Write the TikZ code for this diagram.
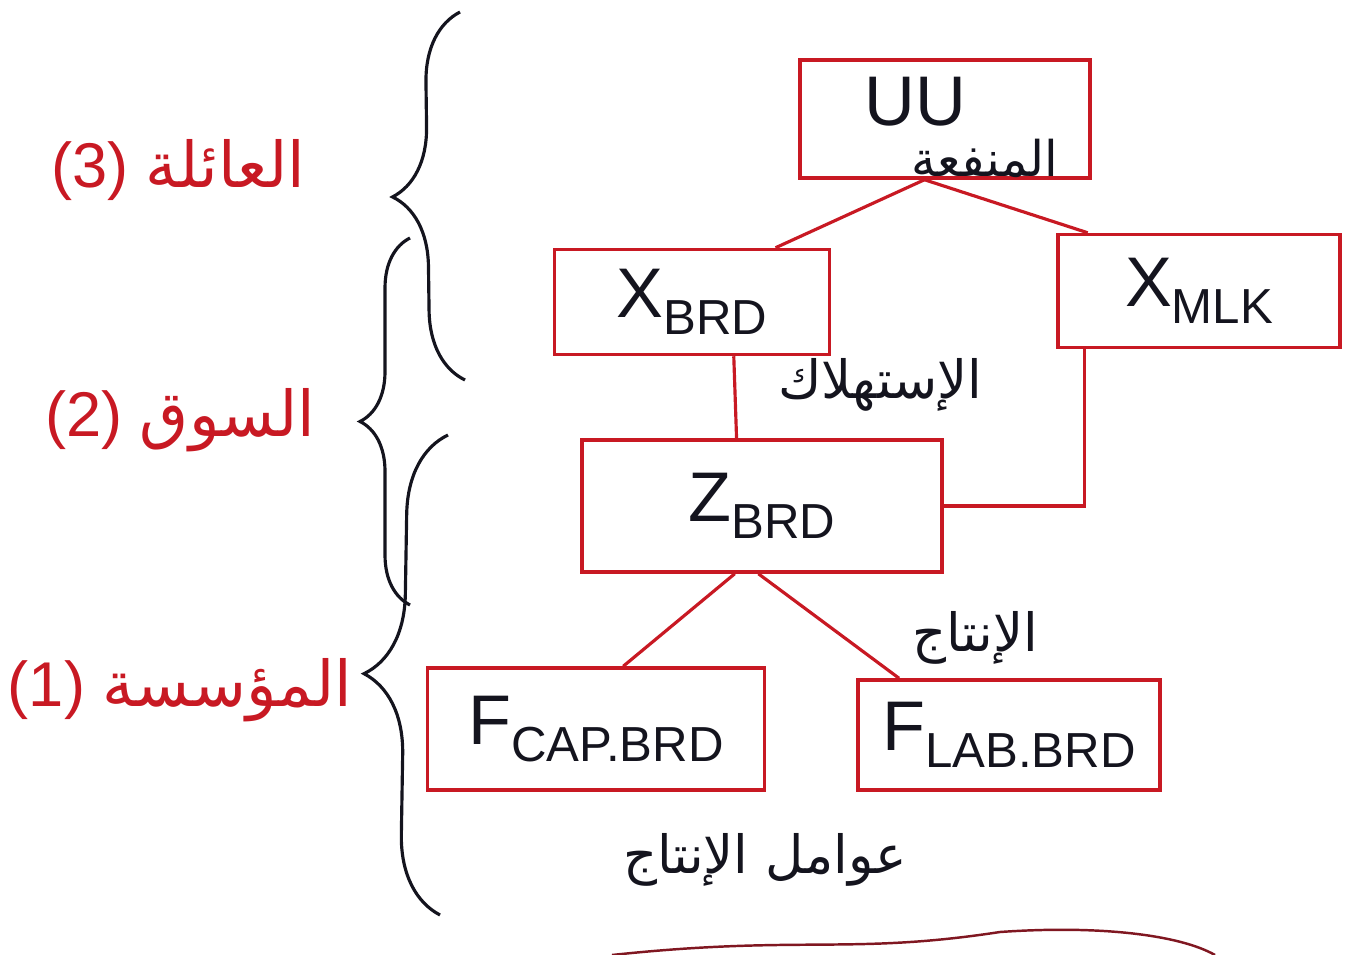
\documentclass[tikz,border=0pt]{standalone}
\usepackage{fontspec}
\setmainfont{Liberation Sans}
\newfontfamily\arabicfont[Script=Arabic]{DejaVu Sans}
\TeXXeTstate=1
\usetikzlibrary{calc,decorations.pathreplacing}
\definecolor{inkred}{RGB}{200,25,35}
\definecolor{inkblack}{RGB}{20,20,30}
\newcommand{\artxt}[1]{{\arabicfont\beginR #1\endR}}
\newcommand{\subtxt}[1]{\raisebox{-0.45ex}{\fontsize{28}{30}\selectfont #1}}

\begin{document}
\begin{tikzpicture}[
    x=0.02cm, y=-0.02cm,
    box/.style={draw=inkred, line width=2pt, inner sep=0, align=center,
        font=\fontsize{40}{44}\selectfont, text=inkblack},
    link/.style={draw=inkred, line width=1.8pt},
    brc/.style={draw=inkblack, line width=1.8pt, decorate,
        decoration={brace, amplitude=#1}},
    lvl/.style={text=inkred, font=\fontsize{36}{40}\selectfont},
    note/.style={text=inkblack, font=\fontsize{30}{34}\selectfont}]
\useasboundingbox (0,0) rectangle (1358,955);

% boxes
\node[box, minimum width=5.8cm, minimum height=2.36cm] (uu) at (945,119) {};
\node[box, draw=none] (uutxt) at (915,102) {UU};
\node[note, font=\fontsize{28}{30}\selectfont] (uulbl) at (985,158) {\artxt{المنفعة}};
\node[box, minimum width=5.5cm, minimum height=2.1cm] (xbrd) at (692,302) {X\subtxt{BRD}};
\node[box, minimum width=5.64cm, minimum height=2.26cm] (xmlk) at (1199,291) {X\subtxt{MLK}};
\node[box, minimum width=7.2cm, minimum height=2.64cm] (zbrd) at (762,506) {Z\subtxt{BRD}};
\node[box, minimum width=6.74cm, minimum height=2.44cm] (fcap) at (596,729) {F\subtxt{CAP.BRD}};
\node[box, minimum width=6.04cm, minimum height=2.2cm] (flab) at (1009,735) {F\subtxt{LAB.BRD}};

% links
\draw[link] ($(uu.south west)!0.43!(uu.south east)$) -- ($(xbrd.north west)!0.8!(xbrd.north east)$);
\draw[link] ($(uu.south west)!0.43!(uu.south east)$) -- ($(xmlk.north west)!0.11!(xmlk.north east)$);
\draw[link] ($(xbrd.south west)!0.65!(xbrd.south east)$) -- ($(zbrd.north west)!0.43!(zbrd.north east)$);
\draw[link] ($(xmlk.south west)!0.1!(xmlk.south east)$) |- (zbrd.east);
\draw[link] ($(zbrd.south west)!0.425!(zbrd.south east)$) -- ($(fcap.north west)!0.58!(fcap.north east)$);
\draw[link] ($(zbrd.south west)!0.49!(zbrd.south east)$) -- ($(flab.north west)!0.14!(flab.north east)$);

% notes
\node[note] (cons) at (880,385) {\artxt{الإستهلاك}};
\node[note] (prod) at (975,638) {\artxt{الإنتاج}};
\node[note] (fact) at (765,860) {\artxt{عوامل الإنتاج}};

% levels
\node[lvl] (hh) at (178,170) {(3)~\artxt{العائلة}};
\node[lvl] (mk) at (180,420) {(2)~\artxt{السوق}};
\node[lvl] (fm) at (180,690) {(1)~\artxt{المؤسسة}};

% braces
\coordinate (b1top) at (460,12);
\coordinate (b1bot) at (465,380);
\coordinate (b2top) at (410,238);
\coordinate (b2bot) at (410,605);
\coordinate (b3top) at (448,435);
\coordinate (b3bot) at (440,915);
\draw[brc=1.4cm] (b1bot) -- (b1top);
\draw[brc=1cm] (b2bot) -- (b2top);
\draw[brc=1.6cm] (b3bot) -- (b3top);

% stray stroke at the bottom edge
\draw[inkred!60!inkblack, line width=1.4pt] (612,955) .. controls (800,935) and (850,955) .. (1000,932)
    .. controls (1100,925) and (1180,935) .. (1215,955);
\end{tikzpicture}
\end{document}
